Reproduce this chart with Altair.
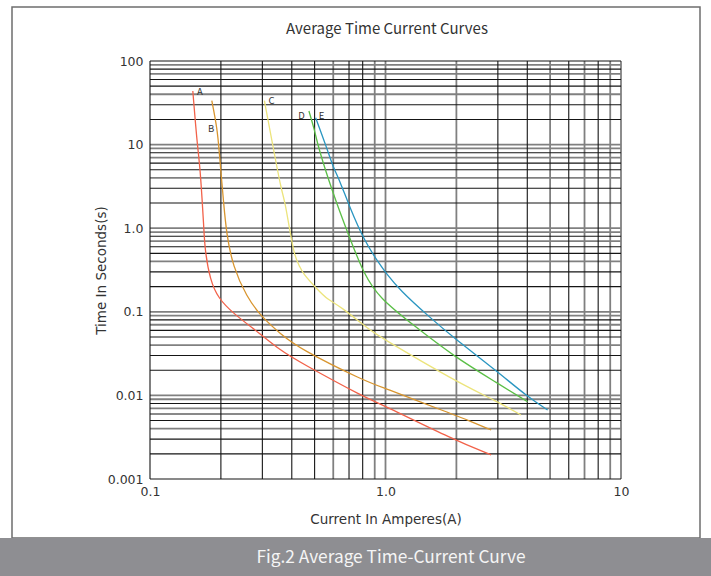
import altair as alt
import pandas as pd

# ---------------- data ----------------
curve_names = ["A", "B", "C", "D", "E"]
curve_colors = ["#f2624a", "#d8952f", "#ece47c", "#5bbf47", "#2a96c1"]

A_current = [0.152, 0.158, 0.163, 0.1665, 0.169, 0.171, 0.180, 0.195, 0.225, 0.292, 0.356, 0.433, 0.828, 0.944, 1.96, 2.81]
A_time    = [43.7, 11.4, 5.44, 2.17, 1.10, 0.548, 0.240, 0.145, 0.096, 0.0553, 0.0349, 0.0249, 0.00923, 0.00804, 0.00293, 0.00194]

B_current = [0.183, 0.193, 0.197, 0.201, 0.205, 0.211, 0.225, 0.257, 0.297, 0.356, 0.433, 0.828, 0.944, 1.96, 2.23, 2.81]
B_time    = [33.5, 15.5, 8.0, 4.0, 2.17, 0.869, 0.346, 0.152, 0.0873, 0.0553, 0.0359, 0.0146, 0.0129, 0.00583, 0.00508, 0.00386]

C_current = [0.306, 0.333, 0.361, 0.373, 0.392, 0.411, 0.433, 0.445, 0.508, 0.570, 0.64, 0.855, 0.944, 1.96, 2.99, 3.76]
C_time    = [33.5, 9.44, 2.86, 2.17, 0.951, 0.456, 0.346, 0.289, 0.191, 0.138, 0.118, 0.0606, 0.0504, 0.015, 0.0084, 0.00583]

D_current = [0.473, 0.50, 0.517, 0.598, 0.70, 0.81, 0.944, 1.31, 1.96, 2.99, 4.01]
D_time    = [25.2, 14.9, 9.44, 2.61, 0.80, 0.28, 0.145, 0.0695, 0.029, 0.014, 0.0084]

E_current = [0.505, 0.561, 0.60, 0.638, 0.703, 0.814, 0.944, 1.007, 1.15, 1.53, 1.96, 2.99, 4.01, 4.88]
E_time    = [21.0, 9.44, 5.3, 3.77, 1.81, 0.70, 0.37, 0.289, 0.182, 0.0873, 0.0482, 0.0192, 0.00964, 0.00668]

label_text    = ["A", "B", "C", "D", "E"]
label_current = [0.163, 0.182, 0.328, 0.440, 0.535]
label_time    = [43.0, 15.5, 33.5, 22.2, 22.2]

x_grid_values = [0.1, 0.2, 0.3, 0.4, 0.5, 0.6, 0.7, 0.8, 0.9,
                 1, 2, 3, 4, 5, 6, 7, 8, 9, 10]
x_grid_tones  = ["k", "k", "k", "k", "k", "g", "k", "k", "g",
                 "g", "g", "k", "k", "g", "k", "g", "k", "g", "g"]

y_decades = [0.001, 0.01, 0.1, 1, 10]
y_multiples = [1, 2, 3, 4, 5, 6, 7, 8, 9]
y_multiple_tones = ["g", "k", "k", "g", "k", "k", "g", "k", "g"]

x_tick_values = [0.1, 1, 10]
y_tick_values = [0.001, 0.01, 0.1, 1, 10, 100]

chart_title = "Average Time Current Curves"
x_title = "Current In Amperes(A)"
y_title = "Time In Seconds(s)"
banner_text = "Fig.2 Average Time-Current Curve"

# ---------------- tables ----------------
rows = []
for name, xs, ys in zip(curve_names, [A_current, B_current, C_current, D_current, E_current],
                        [A_time, B_time, C_time, D_time, E_time]):
    for i, (cx, cy) in enumerate(zip(xs, ys)):
        rows.append({"curve": name, "current": cx, "time": cy, "order": i})
curves = pd.DataFrame(rows)

labels = pd.DataFrame({"text": label_text, "current": label_current, "time": label_time})

xg = pd.DataFrame({"current": x_grid_values, "tone": x_grid_tones})
yrows = []
for d in y_decades:
    for m, t in zip(y_multiples, y_multiple_tones):
        yrows.append({"time": round(m * d, 6), "tone": t})
yrows[0]["tone"] = "k"
yrows.append({"time": 100, "tone": "k"})
yg = pd.DataFrame(yrows)

one = pd.DataFrame({"k": [0]})

xscale = alt.Scale(type="log", domain=[0.1, 10], nice=False)
yscale = alt.Scale(type="log", domain=[0.001, 100], nice=False)

y_label_expr = ("datum.value >= 50 ? '100' : datum.value >= 5 ? '10' : datum.value >= 0.5 ? '1.0' : "
                "datum.value >= 0.05 ? '0.1' : datum.value >= 0.005 ? '0.01' : '0.001'")
x_label_expr = "datum.value < 0.5 ? '0.1' : datum.value < 5 ? '1.0' : '10'"

x_axis = alt.Axis(values=x_tick_values, labelExpr=x_label_expr, ticks=False, grid=False,
                  domain=False, labelPadding=6, labelFontSize=12.5, labelFont="DejaVu Sans",
                  labelColor="#333333", labelFlush=False, labelOverlap=False,
                  title=x_title, titleFont="DejaVu Sans",
                  titleFontSize=13.5, titleFontWeight="normal", titleColor="#333333",
                  titleY=40, titleBaseline="middle")
y_axis = alt.Axis(values=y_tick_values, labelExpr=y_label_expr, ticks=False, grid=False,
                  domain=False, labelPadding=7, labelFontSize=12.5, labelFont="DejaVu Sans",
                  labelColor="#333333", labelFlush=False, labelOverlap=False,
                  title=y_title, titleFont="DejaVu Sans",
                  titleFontSize=13.5, titleFontWeight="normal", titleColor="#333333",
                  titleX=-49, titleY=209, titleAngle=-90, titleAlign="center",
                  titleBaseline="middle")

BLACK = "#151515"
GRAY = "#808080"

def vrules(df, color, w):
    return alt.Chart(df).mark_rule(color=color, strokeWidth=w).encode(
        x=alt.X("current:Q", scale=xscale, axis=x_axis))

def hrules(df, color, w):
    return alt.Chart(df).mark_rule(color=color, strokeWidth=w).encode(
        y=alt.Y("time:Q", scale=yscale, axis=y_axis))

grid_layers = [
    vrules(xg[xg.tone == "g"], GRAY, 1.8),
    hrules(yg[yg.tone == "g"], GRAY, 1.8),
    vrules(xg[xg.tone == "k"], BLACK, 1.1),
    hrules(yg[yg.tone == "k"], BLACK, 1.1),
]

lines = alt.Chart(curves).mark_line(strokeWidth=1.3, interpolate="basis", clip=True).encode(
    x=alt.X("current:Q", scale=xscale, axis=x_axis),
    y=alt.Y("time:Q", scale=yscale, axis=y_axis),
    color=alt.Color("curve:N", scale=alt.Scale(domain=curve_names, range=curve_colors), legend=None),
    order="order:Q",
)

letters = alt.Chart(labels).mark_text(fontSize=9.5, font="Noto Sans CJK SC", color="#333333",
                                       align="center", baseline="middle").encode(
    x=alt.X("current:Q", scale=xscale, axis=x_axis),
    y=alt.Y("time:Q", scale=yscale, axis=y_axis),
    text="text:N",
)

title_mark = alt.Chart(one).mark_text(font="Noto Sans CJK SC", fontSize=15, color="#333333",
                                       align="center", baseline="middle").encode(
    x=alt.value(237), y=alt.value(-32), text=alt.value(chart_title))

border = alt.Chart(one).mark_rect(fill=None, fillOpacity=0, stroke="#6e6e6e", strokeWidth=1.5).encode(
    x=alt.value(-138), x2=alt.value(550), y=alt.value(-54), y2=alt.value(477))

banner = alt.Chart(one).mark_rect(color="#8e8e92").encode(
    x=alt.value(-150), x2=alt.value(561), y=alt.value(477), y2=alt.value(515))

banner_label = alt.Chart(one).mark_text(font="Noto Sans CJK SC", fontSize=17.3, color="#f5f5f5",
                                         align="center", baseline="middle").encode(
    x=alt.value(241), y=alt.value(496.5), text=alt.value(banner_text))

chart = alt.layer(*grid_layers, lines, letters, title_mark, border, banner, banner_label).properties(
    width=471, height=418,
    padding={"left": 150, "top": 61, "right": 90, "bottom": 97},
    autosize=alt.AutoSizeParams(type="none"),
    background="white",
).configure_view(stroke=None)

chart.save("out.html", embed_options={"renderer": "svg", "actions": False})
